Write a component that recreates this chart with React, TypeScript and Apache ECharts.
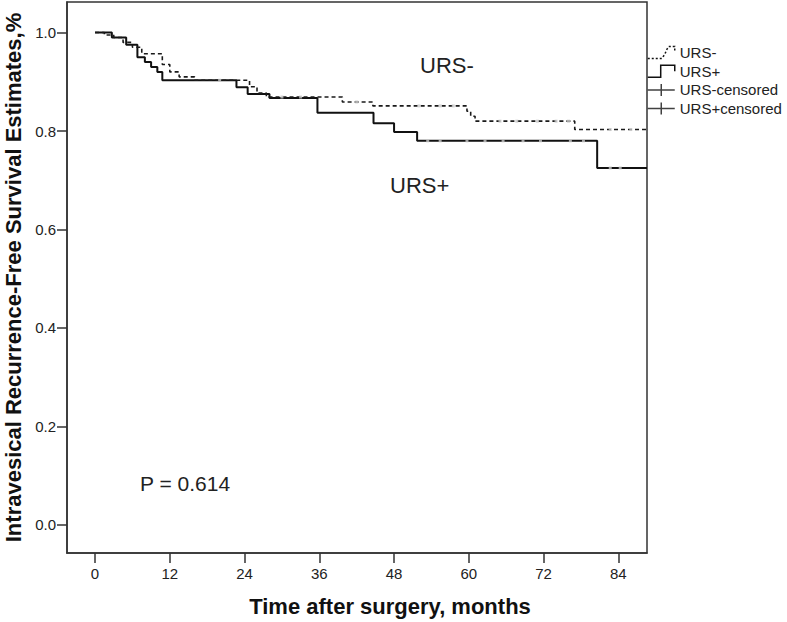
import React, { useEffect, useRef } from "react";
import * as echarts from "echarts";

// ---- data ----
const xTicks = [0, 12, 24, 36, 48, 60, 72, 84];
const yTicks = [0, 0.2, 0.4, 0.6, 0.8, 1.0];

const ursMinusTimes = [0, 1.5, 3, 4.5, 6, 7.5, 10.8, 12, 13.5, 16, 24.8, 26, 27.5, 39.7, 44.6, 59.7, 60.3, 61, 77, 88.6];
const ursMinusSurv = [1.0, 0.995, 0.99, 0.98, 0.97, 0.957, 0.935, 0.92, 0.91, 0.903, 0.89, 0.877, 0.869, 0.859, 0.851, 0.84, 0.83, 0.82, 0.803, 0.803];

const ursPlusTimes = [0, 2.7, 5, 6.8, 8, 9, 10, 10.8, 22.7, 24.5, 28, 35.7, 44.7, 48, 51.7, 80.6, 88.6];
const ursPlusSurv = [1.0, 0.99, 0.975, 0.95, 0.94, 0.93, 0.92, 0.903, 0.889, 0.875, 0.867, 0.837, 0.816, 0.798, 0.78, 0.725, 0.725];

const ursMinusCensorTimes = [20, 30, 33, 42, 52, 55.4, 57.5, 65, 67.7, 71, 74, 76, 82.7, 86];
const ursPlusCensorTimes = [53.4, 55.4, 59.7, 62.6, 65.5, 68.7, 71.5, 76.3, 78.4, 82.7, 84.3];

const seriesNames = ["URS-", "URS+", "URS-censored", "URS+censored"];
const annotations = [
  { text: "URS-", x: 420, y: 65, size: 22 },
  { text: "URS+", x: 390, y: 185, size: 22 },
  { text: "P = 0.614", x: 140, y: 483, size: 21 },
];

const FONT = "'Liberation Sans', Arial, sans-serif";

function survivalAt(times: number[], surv: number[], t: number): number {
  let v = surv[0];
  for (let i = 0; i < times.length; i++) {
    if (times[i] <= t) v = surv[i];
  }
  return v;
}

export default function App() {
  const ref = useRef<HTMLDivElement>(null);

  useEffect(() => {
    document.body.style.margin = "0";
    if (!ref.current) return;
    const chart = echarts.init(ref.current, undefined, { renderer: "svg" });

    const axisColor = "#333";
    const legendStroke = (dashed: boolean) => ({
      color: "rgba(0,0,0,0)",
      borderColor: "#111",
      borderWidth: 1.5,
      borderType: dashed ? [2, 2] : "solid",
    });

    chart.setOption({
      animation: false,
      backgroundColor: "#fff",
      grid: {
        left: 67,
        right: 140,
        top: 2,
        bottom: 69,
        containLabel: false,
        outerBoundsMode: "none",
        show: true,
        borderColor: axisColor,
        borderWidth: 1.5,
        backgroundColor: "rgba(0,0,0,0)",
      },
      xAxis: {
        type: "value",
        min: -4.5,
        max: 88.6,
        name: "Time after surgery, months",
        nameLocation: "middle",
        nameGap: 42,
        nameTextStyle: {
          fontFamily: FONT,
          fontSize: 22,
          fontWeight: "bold",
          color: "#111",
          padding: [0, 0, 0, 66],
        },
        axisLine: { show: true, onZero: false, lineStyle: { color: axisColor, width: 1.5 } },
        axisTick: {
          show: true,
          customValues: xTicks,
          length: 10,
          inside: false,
          lineStyle: { color: axisColor, width: 1.5 },
        },
        axisLabel: {
          customValues: xTicks,
          fontFamily: FONT,
          fontSize: 15,
          color: "#222",
          margin: 13,
        },
        splitLine: { show: false },
      },
      yAxis: {
        type: "value",
        min: -0.057,
        max: 1.062,
        name: "Intravesical Recurrence-Free Survival Estimates,%",
        nameLocation: "middle",
        nameGap: 38,
        nameTextStyle: {
          fontFamily: FONT,
          fontSize: 22,
          fontWeight: "bold",
          color: "#111",
        },
        axisLine: { show: true, onZero: false, lineStyle: { color: axisColor, width: 1.5 } },
        axisTick: {
          show: true,
          customValues: yTicks,
          length: 10,
          inside: false,
          lineStyle: { color: axisColor, width: 1.5 },
        },
        axisLabel: {
          customValues: yTicks,
          fontFamily: FONT,
          fontSize: 15,
          color: "#222",
          margin: 11,
          formatter: (v: number) => v.toFixed(1),
        },
        splitLine: { show: false },
      },
      legend: {
        orient: "vertical",
        left: 647,
        top: 45,
        padding: 0,
        itemWidth: 27,
        itemHeight: 12,
        itemGap: 3.7,
        symbolKeepAspect: false,
        selectedMode: false,
        textStyle: { fontFamily: FONT, fontSize: 15, color: "#222" },
        data: [
          {
            name: seriesNames[0],
            icon: "path://M0,12 L14,12 L17,8 L19,3 L21,0 L27,0 L27,6",
            itemStyle: legendStroke(true),
          },
          {
            name: seriesNames[1],
            icon: "path://M0,12 L12,12 L12,0 L25,0 L25,6",
            itemStyle: legendStroke(false),
          },
          {
            name: seriesNames[2],
            icon: "path://M0,6 L27,6 M13.5,0 L13.5,12",
            itemStyle: legendStroke(false),
          },
          {
            name: seriesNames[3],
            icon: "path://M0,6 L27,6 M13.5,0 L13.5,12",
            itemStyle: legendStroke(false),
          },
        ],
      },
      graphic: annotations.map((a) => ({
        type: "text",
        x: a.x,
        y: a.y,
        silent: true,
        style: {
          text: a.text,
          fontFamily: FONT,
          fontSize: a.size,
          fill: "#222",
          verticalAlign: "middle",
        },
      })),
      series: [
        {
          name: seriesNames[0],
          type: "line",
          step: "end",
          symbol: "none",
          showSymbol: false,
          data: ursMinusTimes.map((t, i) => [t, ursMinusSurv[i]]),
          lineStyle: { color: "#1a1a1a", width: 1.6, type: [4, 3] },
          itemStyle: { color: "#1a1a1a" },
          z: 3,
        },
        {
          name: seriesNames[1],
          type: "line",
          step: "end",
          symbol: "none",
          showSymbol: false,
          data: ursPlusTimes.map((t, i) => [t, ursPlusSurv[i]]),
          lineStyle: { color: "#111", width: 2 },
          itemStyle: { color: "#111" },
          z: 2,
        },
        {
          name: seriesNames[2],
          type: "scatter",
          symbol: "rect",
          symbolSize: [3, 3],
          data: ursMinusCensorTimes.map((t) => [t, survivalAt(ursMinusTimes, ursMinusSurv, t)]),
          itemStyle: { color: "#c8c8c8" },
          z: 4,
        },
        {
          name: seriesNames[3],
          type: "scatter",
          symbol: "rect",
          symbolSize: [3, 3],
          data: ursPlusCensorTimes.map((t) => [t, survivalAt(ursPlusTimes, ursPlusSurv, t)]),
          itemStyle: { color: "#c8c8c8" },
          z: 4,
        },
      ],
    });

    return () => {
      chart.dispose();
    };
  }, []);

  return <div ref={ref} style={{ width: 787, height: 622 }} />;
}
